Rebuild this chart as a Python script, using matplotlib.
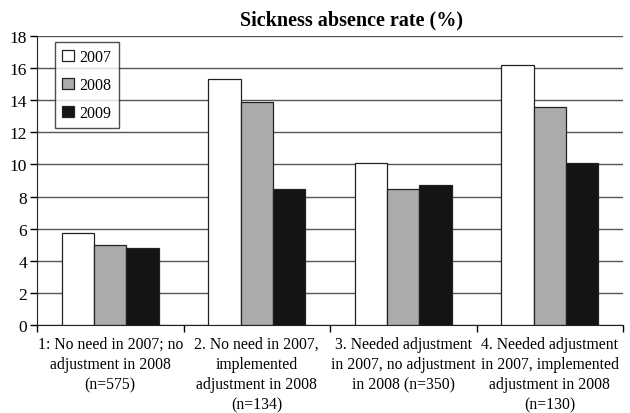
import matplotlib.pyplot as plt
import numpy as np

plt.rcParams['font.family'] = ['Liberation Serif', 'DejaVu Serif']

# Datos
grupos = ['1: No need in 2007; no\nadjustment in 2008\n(n=575)',
          '2. No need in 2007,\nimplemented\nadjustment in 2008\n(n=134)',
          '3. Needed adjustment\nin 2007, no adjustment\nin 2008 (n=350)',
          '4. Needed adjustment\nin 2007, implemented\nadjustment in 2008\n(n=130)']
anios = ['2007', '2008', '2009']
v2007 = [5.72, 15.3, 10.06, 16.22]
v2008 = [5.0, 13.92, 8.48, 13.6]
v2009 = [4.81, 8.44, 8.73, 10.08]
colores = ['white', '#ababab', '#141414']

fig = plt.figure(figsize=(6.3, 4.14), dpi=100)
ax = fig.add_axes([37 / 630, 88 / 414, 586 / 630, 289 / 414])

x = np.arange(len(grupos))
ancho = 0.22
for i, (valores, anio) in enumerate(zip([v2007, v2008, v2009], anios)):
    ax.bar(x + (i - 1) * ancho, valores, ancho, color=colores[i],
           edgecolor='#222222', linewidth=0.9, label=anio, zorder=3)

ax.set_ylim(0, 18)
ax.set_xlim(-0.5, 3.5)
ax.set_yticks(range(0, 19, 2))
ax.yaxis.grid(True, color='#555555', linewidth=1, zorder=0)
ax.set_axisbelow(True)

# Etiquetas de categoría centradas, marcas en los límites
ax.set_xticks(x)
ax.set_xticklabels(grupos, fontsize=11.3, linespacing=1.33)
ax.tick_params(axis='x', which='major', length=0, pad=8)
ax.set_xticks(np.arange(-0.5, 4, 1), minor=True)
ax.tick_params(axis='x', which='minor', length=5, direction='out', width=1)
ax.tick_params(axis='y', labelsize=12.5, length=5, width=1, direction='out', pad=2)

for lado in ['top', 'right']:
    ax.spines[lado].set_visible(False)
ax.spines['left'].set_color('#222222')
ax.spines['bottom'].set_color('#222222')

leg = ax.legend(loc='upper left', bbox_to_anchor=(0.03, 0.98), fontsize=11.5,
                frameon=True, fancybox=False, edgecolor='#222222',
                handlelength=0.75, handleheight=0.75, handletextpad=0.35,
                labelspacing=0.75, borderpad=0.45, borderaxespad=0)
leg.get_frame().set_linewidth(1)

fig.text(352 / 630, 1 - 20 / 414, 'Sickness absence rate (%)', ha='center',
         va='center', fontsize=14.5, fontweight='bold')

fig.savefig('out.png', dpi=100)
